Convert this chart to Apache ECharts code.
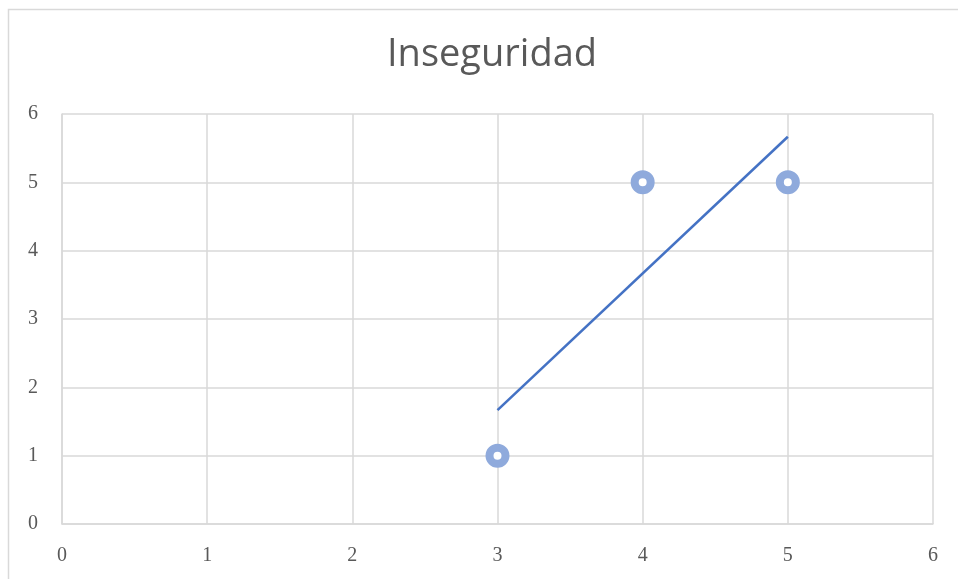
<!DOCTYPE html>
<html>
<head>
<meta charset="utf-8">
<script src="https://cdn.jsdelivr.net/npm/echarts@6/dist/echarts.min.js"></script>
<style>html,body{margin:0;padding:0;background:#fff}#c{width:958px;height:579px}</style>
</head>
<body>
<div id="c"></div>
<script>
var titleText = 'Inseguridad';
var pointsX = [3, 4, 5];
var pointsY = [1, 5, 5];
var trendX = [3, 5];
var trendY = [1.6667, 5.6667];
var xTicks = [0, 1, 2, 3, 4, 5, 6];
var yTicks = [0, 1, 2, 3, 4, 5, 6];

var chart = echarts.init(document.getElementById('c'), null, {renderer: 'canvas'});
var gridColor = '#d9d9d9';
var labelFont = {color: '#595959', fontFamily: 'Liberation Serif', fontSize: 20};
chart.setOption({
  animation: false,
  backgroundColor: '#fff',
  title: {
    text: titleText, left: 382, top: 31,
    textStyle: {color: '#595959', fontFamily: 'Open Sans', fontWeight: 'normal', fontSize: 38}
  },
  graphic: [{
    type: 'rect', shape: {x: 8.5, y: 9.5, width: 1000, height: 1000},
    style: {fill: 'none', stroke: gridColor, lineWidth: 1.5}, silent: true
  }],
  grid: {left: 62, right: 25, top: 114, bottom: 55},
  xAxis: {
    type: 'value', min: xTicks[0], max: xTicks[xTicks.length - 1], interval: 1,
    axisLine: {show: true, lineStyle: {color: gridColor, width: 1.5}},
    axisTick: {show: false},
    splitLine: {show: true, lineStyle: {color: gridColor, width: 1.5}},
    axisLabel: Object.assign({margin: 22}, labelFont)
  },
  yAxis: {
    type: 'value', min: yTicks[0], max: yTicks[yTicks.length - 1], interval: 1,
    axisLine: {show: true, lineStyle: {color: gridColor, width: 1.5}},
    axisTick: {show: false},
    splitLine: {show: true, lineStyle: {color: gridColor, width: 1.5}},
    axisLabel: Object.assign({margin: 24}, labelFont)
  },
  series: [{
    type: 'line',
    data: trendX.map(function (x, i) { return [x, trendY[i]]; }),
    showSymbol: false, symbol: 'none',
    lineStyle: {color: '#4472C4', width: 2.5},
    z: 2
  }, {
    type: 'scatter',
    data: pointsX.map(function (x, i) { return [x, pointsY[i]]; }),
    symbol: 'circle', symbolSize: 16,
    itemStyle: {color: '#ffffff', borderColor: '#8FAADC', borderWidth: 8, opacity: 1},
    z: 3
  }]
});
</script>
</body>
</html>
